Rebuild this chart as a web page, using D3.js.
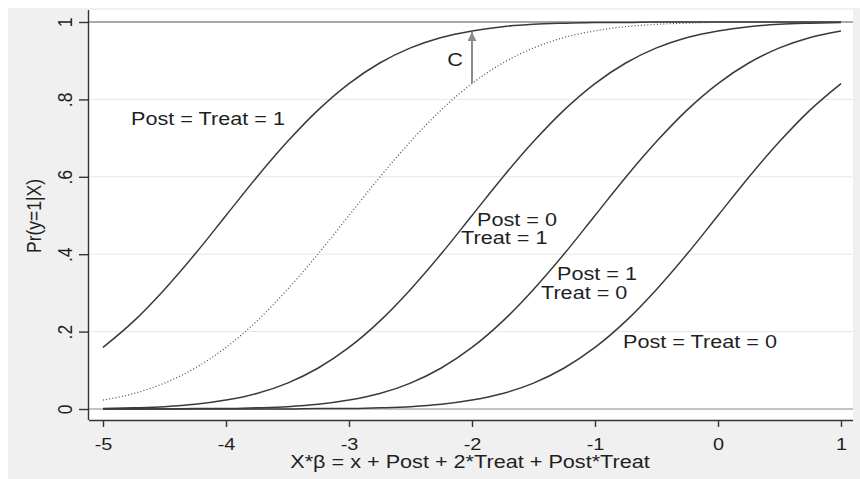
<!DOCTYPE html>
<html>
<head>
<meta charset="utf-8">
<script src="https://cdn.jsdelivr.net/npm/d3@7"></script>
<style>
  body { margin: 0; background: #fff; }
  text { font-family: "Liberation Sans", Arial, sans-serif; fill: #1f1f1f; }
</style>
</head>
<body>
<svg id="graph"></svg>
<script>
// sample points along the x axis
var xVals = [-5, -4.75, -4.5, -4.25, -4, -3.75, -3.5, -3.25, -3, -2.75, -2.5, -2.25, -2,
             -1.75, -1.5, -1.25, -1, -0.75, -0.5, -0.25, 0, 0.25, 0.5, 0.75, 1];

// Pr(y=1|X)
var postTreat0 = [0, 0, 0, 0, 0, 0, 0, 0.001, 0.001, 0.003, 0.006, 0.012, 0.023,
                  0.040, 0.067, 0.106, 0.159, 0.227, 0.309, 0.401, 0.5, 0.599, 0.691, 0.773, 0.841];
var post1Treat0 = [0, 0, 0, 0.001, 0.001, 0.003, 0.006, 0.012, 0.023, 0.040, 0.067, 0.106, 0.159,
                   0.227, 0.309, 0.401, 0.5, 0.599, 0.691, 0.773, 0.841, 0.894, 0.933, 0.960, 0.977];
var post0Treat1 = [0.001, 0.003, 0.006, 0.012, 0.023, 0.040, 0.067, 0.106, 0.159, 0.227, 0.309, 0.401, 0.5,
                   0.599, 0.691, 0.773, 0.841, 0.894, 0.933, 0.960, 0.977, 0.988, 0.994, 0.997, 0.999];
var noInteraction = [0.023, 0.040, 0.067, 0.106, 0.159, 0.227, 0.309, 0.401, 0.5, 0.599, 0.691, 0.773, 0.841,
                     0.894, 0.933, 0.960, 0.977, 0.988, 0.994, 0.997, 0.999, 0.999, 1, 1, 1];
var postTreat1 = [0.159, 0.227, 0.309, 0.401, 0.5, 0.599, 0.691, 0.773, 0.841, 0.894, 0.933, 0.960, 0.977,
                  0.988, 0.994, 0.997, 0.999, 0.999, 1, 1, 1, 1, 1, 1, 1];

var xTicks = [-5, -4, -3, -2, -1, 0, 1];
var xTickLabels = ["-5", "-4", "-3", "-2", "-1", "0", "1"];
var yTicks = [0, 0.2, 0.4, 0.6, 0.8, 1];
var yTickLabels = ["0", ".2", ".4", ".6", ".8", "1"];

// arrow showing the interaction effect C
var arrowX = -2, arrowFrom = 0.841, arrowTo = 0.977;

var W = 860, H = 479;
var stretch = 1.17;   // the type in the original is drawn wide

var svg = d3.select("#graph").attr("width", W).attr("height", H);

// outer (graph) region and plot region
svg.append("rect").attr("x", 8).attr("y", 8).attr("width", W - 8).attr("height", H - 8).attr("fill", "#f0f0f0");
var plot = {left: 89, right: 853, top: 10, bottom: 420};
svg.append("rect").attr("x", plot.left).attr("y", plot.top)
   .attr("width", plot.right - plot.left).attr("height", plot.bottom - plot.top).attr("fill", "#fff");

var x = d3.scaleLinear().domain([-5, 1]).range([103, 841]);
var y = d3.scaleLinear().domain([0, 1]).range([409, 22]);

// grid
svg.selectAll(".grid").data(yTicks.filter(function(d) { return d > 0 && d < 1; }))
   .enter().append("line")
   .attr("x1", plot.left).attr("x2", plot.right)
   .attr("y1", function(d) { return y(d); }).attr("y2", function(d) { return y(d); })
   .attr("stroke", "#e6e6e6").attr("stroke-width", 1);

// reference lines at 0 and 1
svg.append("line").attr("x1", plot.left).attr("x2", plot.right)
   .attr("y1", y(0)).attr("y2", y(0)).attr("stroke", "#8a8a8a").attr("stroke-width", 1.2);
svg.append("line").attr("x1", plot.left).attr("x2", plot.right)
   .attr("y1", y(1)).attr("y2", y(1)).attr("stroke", "#555").attr("stroke-width", 1.2);

var line = d3.line()
    .x(function(d, i) { return x(xVals[i]); })
    .y(function(d) { return y(d); })
    .curve(d3.curveMonotoneX);

[postTreat0, post1Treat0, post0Treat1, postTreat1].forEach(function(s) {
    svg.append("path").datum(s).attr("d", line)
       .attr("fill", "none").attr("stroke", "#3a3a3a").attr("stroke-width", 1.5);
});
svg.append("path").datum(noInteraction).attr("d", line)
   .attr("fill", "none").attr("stroke", "#555").attr("stroke-width", 1.3)
   .attr("stroke-dasharray", "1,2.2");

// arrow
svg.append("defs").append("marker")
   .attr("id", "head").attr("viewBox", "0 0 10 10").attr("refX", 10).attr("refY", 5)
   .attr("markerWidth", 4.5).attr("markerHeight", 4.5).attr("markerUnits", "strokeWidth")
   .attr("orient", "auto")
   .append("path").attr("d", "M0,0L10,5L0,10z").attr("fill", "#8c8c8c");
svg.append("line")
   .attr("x1", x(arrowX)).attr("x2", x(arrowX))
   .attr("y1", y(arrowFrom)).attr("y2", y(arrowTo) + 1)
   .attr("stroke", "#8c8c8c").attr("stroke-width", 2)
   .attr("marker-end", "url(#head)");

// axes
var xAxis = svg.append("g").attr("transform", "translate(0," + plot.bottom + ")")
   .call(d3.axisBottom(x).tickValues(xTicks).tickSize(7)
        .tickFormat(function(d, i) { return xTickLabels[i]; }));
xAxis.select(".domain").attr("d", "M" + plot.left + ",0.5H" + plot.right)
   .attr("stroke", "#333").attr("stroke-width", 1.4);
xAxis.selectAll(".tick line").attr("stroke", "#333").attr("stroke-width", 1.4);
xAxis.selectAll(".tick text").attr("y", 0).attr("dy", 0)
   .attr("transform", "translate(0,30) scale(" + stretch + ",1)")
   .style("font-size", "17px").attr("fill", "#1f1f1f");

var yAxis = svg.append("g").attr("transform", "translate(" + plot.left + ",0)")
   .call(d3.axisLeft(y).tickValues(yTicks).tickSize(10)
        .tickFormat(function(d, i) { return yTickLabels[i]; }));
yAxis.select(".domain").attr("d", "M-0.5," + plot.top + "V" + plot.bottom)
   .attr("stroke", "#333").attr("stroke-width", 1.4);
yAxis.selectAll(".tick line").attr("stroke", "#333").attr("stroke-width", 1.4);
yAxis.selectAll(".tick text").attr("x", 0).attr("dy", 0)
   .attr("text-anchor", "middle")
   .attr("transform", "translate(-17.5,0) rotate(-90) scale(1," + stretch + ")")
   .style("font-size", "17.5px").attr("fill", "#1f1f1f");
svg.selectAll(".domain").attr("fill", "none");

// axis titles
svg.append("text")
   .attr("transform", "translate(470,468) scale(" + stretch + ",1)")
   .attr("text-anchor", "middle").style("font-size", "18.5px")
   .text("X*β = x + Post + 2*Treat + Post*Treat");
svg.append("text")
   .attr("transform", "translate(41,216) rotate(-90) scale(1," + stretch + ")")
   .attr("text-anchor", "middle").style("font-size", "17.5px")
   .text("Pr(y=1|X)");

// curve labels (anchored in data units)
var labels = [
    {t: "Post = Treat = 1", x: -4.772, y: 0.734, a: "start"},
    {t: "Post = 0", x: -1.959, y: 0.473, a: "start"},
    {t: "Treat = 1", x: -2.089, y: 0.426, a: "start"},
    {t: "Post = 1", x: -1.309, y: 0.333, a: "start"},
    {t: "Treat = 0", x: -1.439, y: 0.284, a: "start"},
    {t: "Post = Treat = 0", x: -0.772, y: 0.158, a: "start"},
    {t: "C", x: -2.138, y: 0.886, a: "middle"}
];
svg.selectAll(".lab").data(labels).enter().append("text")
   .attr("transform", function(d) {
       return "translate(" + x(d.x) + "," + y(d.y) + ") scale(" + stretch + ",1)";
   })
   .attr("text-anchor", function(d) { return d.a; })
   .style("font-size", "18.5px")
   .text(function(d) { return d.t; });
</script>
</body>
</html>
